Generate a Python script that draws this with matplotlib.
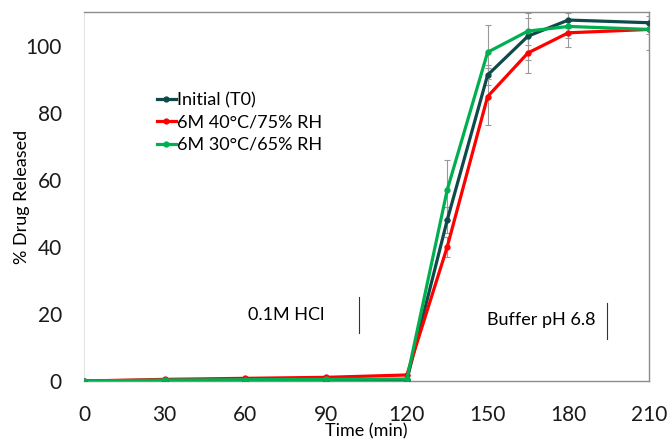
import matplotlib
matplotlib.use("Agg")
import matplotlib.pyplot as plt

time = [0, 30, 60, 90, 120, 135, 150, 165, 180, 210]
initial = [0, 0.1, 0.1, 0.2, 0.3, 48, 91.2, 102.8, 107.6, 106.8]
m6_40 = [0, 0.5, 0.8, 1.1, 1.8, 40, 84.8, 97.8, 103.8, 104.8]
m6_30 = [0, 0.3, 0.4, 0.5, 0.6, 57, 98, 104.3, 105.7, 104.8]
err_initial = [0, 0, 0, 0, 0, 4, 3, 7, 2, 2]
err_40 = [0, 0, 0, 0, 0, 3, 8.5, 6, 1.5, 1.5]
err_30 = [0, 0, 0, 0, 0, 9, 8, 4, 6, 6]
labels = ["Initial (T0)", "6M 40°C/75% RH", "6M 30°C/65% RH"]
colors = ["#0f4a4a", "#ff0000", "#00b050"]
xticks = [0, 30, 60, 90, 120, 150, 180, 210]
yticks = [0, 20, 40, 60, 80, 100]

plt.rcParams['font.family'] = ['Lato', 'DejaVu Sans']
fig = plt.figure(figsize=(6.7, 4.41), dpi=100)
ax = fig.add_axes([0.1254, 0.136, 0.8433, 0.8368])

for y, e, c, lab in zip([initial, m6_40, m6_30], [err_initial, err_40, err_30], colors, labels):
    ax.errorbar(time, y, yerr=e, fmt='none', ecolor='#999999', elinewidth=0.8, capsize=2, capthick=0.8, zorder=1)
    ax.plot(time, y, color=c, lw=2.3, marker='o', ms=3.5, label=lab, zorder=3)

ax.set_xlim(0, 210)
ax.set_ylim(0, 110)
ax.set_xticks(xticks)
ax.set_yticks(yticks)
ax.tick_params(axis='both', length=0, labelsize=15, colors='#1a1a1a')
ax.tick_params(axis='x', pad=17)
ax.tick_params(axis='y', pad=16)
for s in ['top', 'right', 'bottom']:
    ax.spines[s].set_color('#8c8c8c')
    ax.spines[s].set_linewidth(1.0)
ax.spines['left'].set_color('#e6e6e6')
ax.set_xlabel('Time (min)', fontsize=13, labelpad=-1)
ax.set_ylabel('% Drug Released', fontsize=13, labelpad=-3)

ax.text(0.357, 0.179, '0.1M HCl', transform=ax.transAxes, fontsize=13, ha='center', va='center')
ax.text(0.81, 0.165, 'Buffer pH 6.8', transform=ax.transAxes, fontsize=13, ha='center', va='center')
ax.axvline(102.2, ymin=0.13, ymax=0.228, color='#333333', lw=0.8)
ax.axvline(194.4, ymin=0.114, ymax=0.211, color='#333333', lw=0.8)

leg = ax.legend(loc='upper left', bbox_to_anchor=(0.13, 0.783), frameon=False, fontsize=13,
                handlelength=1.0, handletextpad=0.1, labelspacing=0.35, borderaxespad=0, borderpad=0)

fig.savefig('out.png', dpi=100)
